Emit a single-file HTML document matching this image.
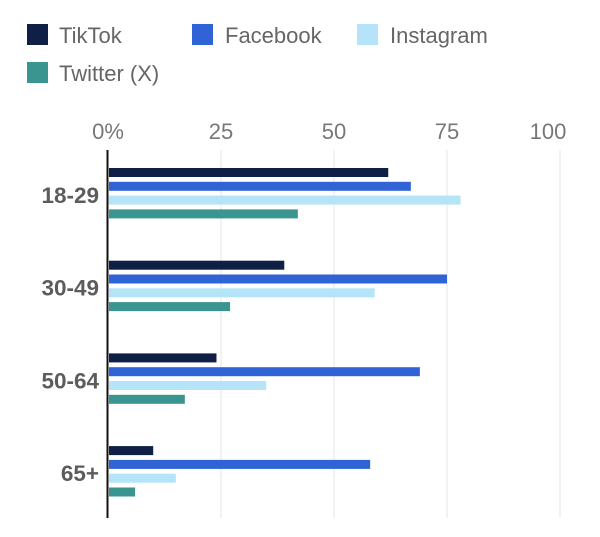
<!DOCTYPE html>
<html><head><meta charset="utf-8"><style>
html,body{margin:0;padding:0;background:#fff;}
svg{display:block;font-family:"Liberation Sans",sans-serif;}
</style></head><body>
<svg id="c" width="600" height="537">
<g>
<g><rect x="27" y="24" width="21" height="21" fill="#0f1f45"/><text x="59" y="43" font-size="22" fill="#666">TikTok</text></g>
<g><rect x="192" y="24" width="21" height="21" fill="#2f63d6"/><text x="225" y="43" font-size="22" fill="#666">Facebook</text></g>
<g><rect x="357" y="24" width="21" height="21" fill="#b5e3f7"/><text x="390" y="43" font-size="22" fill="#666">Instagram</text></g>
<g><rect x="27" y="62" width="21" height="21" fill="#3a9490"/><text x="59" y="81" font-size="22" fill="#666">Twitter (X)</text></g>
</g>
<g id="grid"></g><g id="bars"></g><g id="labels"></g>
<line x1="107.5" y1="150" x2="107.5" y2="518" stroke="#111" stroke-width="2"/>
</svg>
<script>
const categories=["18-29","30-49","50-64","65+"];
const seriesNames=["TikTok","Facebook","Instagram","Twitter (X)"];
const tiktok=[62,39,24,10];
const facebook=[67,75,69,58];
const instagram=[78,59,35,15];
const twitter=[42,27,17,6];
const ticks=[0,25,50,75,100];
const tickLabels=["0%","25","50","75","100"];
const colors=["#0f1f45","#2f63d6","#b5e3f7","#3a9490"];
const series=[tiktok,facebook,instagram,twitter];
const NS="http://www.w3.org/2000/svg";
const x=v=>108+v*4.52;
const groupY=i=>168+i*92.7;
function mk(t,a,p){const e=document.createElementNS(NS,t);for(const k in a)e.setAttribute(k,a[k]);p.appendChild(e);return e;}
const grid=document.getElementById('grid'),bars=document.getElementById('bars'),labels=document.getElementById('labels');
ticks.forEach((t,i)=>{
 if(t>0){const l=mk('line',{x1:x(t),x2:x(t),y1:150,y2:518,stroke:'#e4e4e4','stroke-width':1},grid);
 
 }
 const tx=mk('text',{x:x(t)-(t===100?12:0),y:139,'font-size':22,fill:'#777','text-anchor':'middle'},labels);
 tx.textContent=tickLabels[i];
 
 
});
categories.forEach((c,i)=>{
 const y0=groupY(i);
 series.forEach((s,j)=>{
  const r=mk('rect',{x:109,y:y0+j*13.8,width:x(s[i])-109,height:9,fill:colors[j]},bars);
  
  
 });
 const t=mk('text',{x:99,y:y0+35,'font-size':22.5,'font-weight':'bold',fill:'#5c5c5c','text-anchor':'end'},labels);
 t.textContent=c;
 
 
});
</script>
</body></html>
